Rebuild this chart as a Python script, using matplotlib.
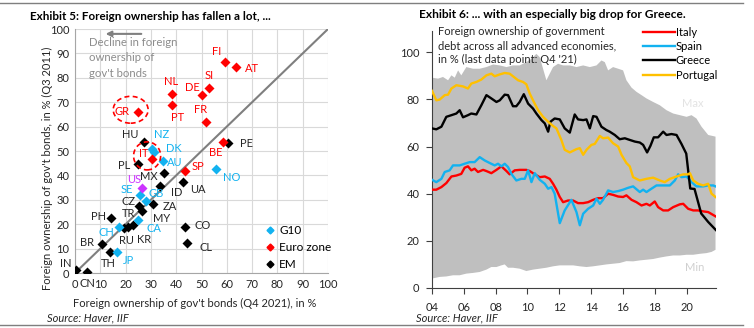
import numpy as np
import matplotlib
matplotlib.use("Agg")
import matplotlib.pyplot as plt
from matplotlib.lines import Line2D
from matplotlib.patches import Ellipse

plt.rcParams['font.family'] = ['Lato', 'DejaVu Sans']

# ==========================================
# Exhibit 5 data: (Q4 2021 share, Q3 2011 share), label offsets in pixels
# ==========================================
euro_names = ['FI', 'AT', 'SI', 'DE', 'NL', 'PT', 'GR', 'FR', 'BE', 'IT', 'SP']
euro_x = [59.3, 63.6, 53.1, 50.2, 38.4, 38.4, 24.8, 51.8, 58.4, 30.5, 43.5]
euro_y = [86.4, 84.5, 75.8, 73.0, 73.4, 69.0, 65.9, 61.9, 53.8, 46.6, 41.9]
euro_off = [(-8, 11), (16, -2), (0, 13), (-10, 7), (-1, 12), (5, -13), (-16, 1),
            (-5, 12), (-7, -11), (-8, 6), (13, 4)]

g10_names = ['NZ', 'DK', 'AU', 'NO', 'SE', 'GB', 'CA', 'CH', 'JP']
g10_x = [30.5, 31.3, 34.7, 55.7, 25.7, 28.1, 25.0, 17.5, 16.5]
g10_y = [50.8, 49.7, 46.0, 42.5, 32.0, 29.6, 21.7, 19.0, 8.7]
g10_off = [(9, 15), (20, 3), (12, -2), (16, -8), (-13, 5), (10, 7), (16, -8),
           (-13, -6), (12, -9)]

us_x = [26.4]
us_y = [34.7]

em_names = ['PE', 'HU', 'PL', 'MX', 'UA', 'ID', 'CZ', 'ZA', 'TR', 'RU', 'KR', 'MY',
            'PH', 'BR', 'TH', 'IN', 'CN', 'CO', 'CL']
em_x = [60.6, 27.4, 24.8, 35.2, 42.8, 33.6, 25.4, 30.7, 26.6, 19.4, 21.1, 23.0,
        14.1, 10.5, 13.8, 0.4, 4.9, 43.5, 44.1]
em_y = [53.4, 53.8, 44.7, 40.9, 37.4, 35.7, 27.5, 28.3, 25.4, 18.3, 19.0, 19.7,
        22.4, 11.9, 8.7, 1.2, 0.5, 18.7, 12.2]
em_off = [(18, -1), (-14, 7), (-14, -2), (-15, -3), (15, -8), (17, -7), (-11, 4),
          (17, -3), (-14, -2), (2, -12), (16, -13), (28, 6), (-12, 2), (-15, 1),
          (-2, -12), (-10, 7), (0, -12), (18, 2), (19, -4)]

diag = [0, 100]
decline_lines = ['Decline in foreign', 'ownership of', "gov't bonds"]

# ==========================================
# Exhibit 6 data: foreign ownership of govt debt, %
# ==========================================
pt_t = [2004.00, 2004.27, 2004.48, 2004.80, 2005.01, 2005.22, 2005.53, 2005.95, 2006.26,
        2006.47, 2006.79, 2007.10, 2007.42, 2007.73, 2007.94, 2008.26, 2008.57, 2008.88,
        2009.09, 2009.41, 2009.72, 2009.93, 2010.14, 2010.35, 2010.67, 2010.98, 2011.30,
        2011.61, 2011.82, 2012.13, 2012.34, 2012.66, 2013.08, 2013.29, 2013.50, 2013.71,
        2014.02, 2014.23, 2014.55, 2014.75, 2015.07, 2015.38, 2015.70, 2015.91, 2016.22,
        2016.43, 2016.64, 2017.06, 2017.48, 2017.90, 2018.32, 2018.63, 2018.95, 2019.37,
        2019.79, 2020.10, 2020.21, 2020.42, 2020.73, 2021.04, 2021.36, 2021.57, 2021.82]
pt_v = [83.6, 79.6, 79.9, 81.8, 82.0, 84.6, 86.0, 85.5, 84.6,
        86.7, 87.4, 88.4, 90.2, 90.9, 89.8, 90.6, 91.2, 90.9,
        89.8, 88.1, 87.4, 86.4, 82.5, 79.6, 75.4, 72.6, 70.5,
        68.7, 67.7, 62.8, 58.6, 57.5, 58.9, 59.3, 56.5, 58.6,
        60.7, 61.1, 64.5, 63.5, 63.8, 61.4, 60.0, 56.5, 53.0,
        51.6, 47.0, 45.6, 46.3, 46.8, 45.6, 44.9, 46.3, 47.3,
        48.2, 48.2, 48.7, 45.6, 44.2, 43.5, 44.2, 40.0, 38.6]

gr_t = [2004.00, 2004.27, 2004.59, 2004.90, 2005.22, 2005.53, 2005.74, 2005.95, 2006.26,
        2006.47, 2006.79, 2007.10, 2007.42, 2007.73, 2008.05, 2008.26, 2008.57, 2008.78,
        2009.09, 2009.30, 2009.51, 2009.77, 2010.04, 2010.35, 2010.56, 2010.88, 2011.09,
        2011.30, 2011.44, 2011.71, 2012.03, 2012.34, 2012.66, 2012.97, 2013.18, 2013.50,
        2013.71, 2013.92, 2014.13, 2014.34, 2014.65, 2014.96, 2015.17, 2015.49, 2015.80,
        2016.12, 2016.43, 2016.75, 2017.06, 2017.27, 2017.52, 2017.73, 2017.94, 2018.21,
        2018.53, 2018.74, 2019.05, 2019.37, 2019.68, 2019.98, 2020.23, 2020.50, 2020.92,
        2021.36, 2021.84]
gr_v = [67.7, 67.3, 68.4, 72.6, 73.3, 74.0, 75.4, 72.4, 73.3,
        74.0, 73.6, 77.5, 81.8, 80.4, 78.9, 79.6, 82.0, 81.8,
        77.1, 77.1, 78.9, 82.2, 78.2, 76.1, 74.0, 71.2, 69.8,
        66.3, 70.5, 71.9, 71.5, 67.7, 65.9, 73.6, 71.5, 71.2,
        71.5, 67.7, 72.9, 72.6, 68.4, 67.0, 66.3, 64.9, 63.1,
        63.5, 62.8, 62.1, 61.7, 60.7, 57.5, 60.3, 63.9, 63.9,
        66.3, 64.9, 65.3, 64.9, 61.1, 57.0, 42.2, 42.0, 31.6,
        28.0, 24.6]

it_t = [2004.00, 2004.27, 2004.59, 2004.90, 2005.22, 2005.53, 2005.84, 2006.05, 2006.26,
        2006.47, 2006.68, 2006.89, 2007.21, 2007.42, 2007.73, 2008.05, 2008.36, 2008.68,
        2008.88, 2009.20, 2009.51, 2009.93, 2010.14, 2010.46, 2010.77, 2011.09, 2011.40,
        2011.61, 2011.82, 2012.03, 2012.24, 2012.55, 2012.87, 2013.18, 2013.50, 2013.81,
        2014.13, 2014.44, 2014.75, 2015.07, 2015.38, 2015.70, 2016.01, 2016.22, 2016.54,
        2016.85, 2017.17, 2017.48, 2017.69, 2018.00, 2018.21, 2018.53, 2018.84, 2019.16,
        2019.58, 2019.79, 2020.10, 2020.42, 2020.73, 2021.04, 2021.36, 2021.82]
it_v = [41.7, 41.7, 42.8, 44.5, 47.3, 47.7, 48.4, 51.0, 51.6,
        49.9, 50.6, 49.2, 50.1, 49.6, 48.7, 50.1, 51.6, 49.6,
        48.2, 49.9, 50.1, 50.1, 49.6, 48.2, 47.0, 47.3, 46.3,
        44.2, 41.7, 38.6, 36.4, 37.1, 37.1, 36.0, 36.0, 36.4,
        37.4, 38.1, 38.1, 40.0, 39.5, 38.8, 38.6, 39.3, 37.4,
        36.4, 35.0, 35.7, 35.0, 36.7, 34.3, 32.9, 32.9, 34.3,
        35.5, 35.7, 33.6, 32.9, 32.9, 32.5, 32.2, 30.4]

es_t = [2004.00, 2004.27, 2004.59, 2004.80, 2005.11, 2005.32, 2005.74, 2006.05, 2006.37,
        2006.68, 2007.00, 2007.31, 2007.63, 2007.94, 2008.15, 2008.36, 2008.57, 2008.78,
        2008.99, 2009.30, 2009.62, 2009.83, 2010.04, 2010.25, 2010.46, 2010.77, 2011.09,
        2011.30, 2011.51, 2011.71, 2012.03, 2012.34, 2012.76, 2013.08, 2013.29, 2013.50,
        2013.81, 2014.13, 2014.34, 2014.55, 2014.75, 2015.07, 2015.38, 2015.70, 2016.01,
        2016.33, 2016.64, 2017.06, 2017.27, 2017.48, 2017.79, 2018.11, 2018.53, 2018.95,
        2019.26, 2019.47, 2019.68, 2020.00, 2020.31, 2020.62, 2021.04, 2021.36, 2021.67,
        2021.82]
es_v = [45.9, 44.9, 46.3, 49.2, 49.9, 52.0, 52.0, 52.7, 53.4,
        53.4, 55.5, 54.1, 53.0, 52.0, 52.7, 51.6, 52.7, 51.3,
        48.4, 45.6, 46.3, 46.3, 49.9, 44.9, 48.7, 45.9, 44.2,
        42.1, 42.8, 40.0, 27.5, 32.9, 37.4, 32.2, 26.6, 31.5,
        33.6, 35.0, 37.9, 35.7, 37.4, 41.4, 40.7, 41.1, 41.7,
        42.5, 43.1, 40.7, 41.7, 40.7, 42.1, 43.5, 43.5, 43.5,
        45.6, 48.2, 47.0, 47.3, 44.9, 43.1, 43.1, 43.5, 43.5,
        43.1]

max_t = [2004.00, 2004.38, 2004.69, 2005.01, 2005.22, 2005.43, 2005.64, 2005.84, 2006.16,
         2006.58, 2007.00, 2007.42, 2007.84, 2008.26, 2008.68, 2009.09, 2009.51, 2009.93,
         2010.25, 2010.56, 2010.77, 2010.98, 2011.19, 2011.40, 2011.61, 2011.92, 2012.24,
         2012.66, 2013.08, 2013.50, 2013.92, 2014.34, 2014.65, 2014.86, 2015.07, 2015.38,
         2015.70, 2016.01, 2016.22, 2016.54, 2016.85, 2017.17, 2017.48, 2017.90, 2018.32,
         2018.74, 2019.16, 2019.58, 2020.00, 2020.31, 2020.62, 2020.94, 2021.36, 2021.82]
max_v = [89.2, 88.8, 89.5, 88.1, 90.2, 89.2, 92.3, 90.2, 93.7,
         93.0, 93.0, 93.7, 94.8, 94.4, 93.7, 94.4, 94.4, 95.8,
         97.2, 99.3, 97.9, 93.0, 88.1, 90.9, 93.7, 95.1, 94.4,
         94.4, 93.7, 94.4, 93.7, 94.4, 96.5, 95.8, 92.3, 93.7,
         93.0, 92.3, 88.1, 85.0, 83.2, 81.8, 80.4, 78.9, 77.5,
         75.4, 74.0, 73.3, 72.6, 73.3, 71.9, 68.4, 64.9, 64.2]

min_t = [2004.00, 2004.48, 2004.90, 2005.32, 2005.74, 2006.16, 2006.58, 2007.00, 2007.42,
         2007.73, 2008.05, 2008.36, 2008.57, 2008.78, 2009.09, 2009.51, 2009.93, 2010.35,
         2010.77, 2011.19, 2011.61, 2012.03, 2012.45, 2012.87, 2013.29, 2013.71, 2014.13,
         2014.55, 2014.96, 2015.38, 2015.80, 2016.22, 2016.64, 2017.06, 2017.48, 2017.90,
         2018.32, 2018.74, 2019.16, 2019.58, 2020.00, 2020.42, 2020.83, 2021.25, 2021.57,
         2021.82]
min_v = [4.0, 4.7, 4.9, 5.4, 5.4, 6.1, 6.4, 6.8, 7.8,
         8.9, 8.9, 9.6, 10.0, 8.6, 8.6, 8.2, 7.2, 7.8,
         8.2, 8.6, 9.2, 9.6, 9.6, 9.6, 9.2, 8.9, 9.2,
         9.6, 10.0, 10.3, 10.6, 11.4, 11.3, 11.7, 12.0, 12.3,
         12.9, 13.4, 13.8, 13.8, 14.1, 14.1, 14.5, 14.8, 15.3,
         16.2]

year_ticks = [2004, 2006, 2008, 2010, 2012, 2014, 2016, 2018, 2020]
year_labels = ['04', '06', '08', '10', '12', '14', '16', '18', '20']

BLUE = '#12B2F0'
RED = '#FF0000'
PURPLE = '#CC33FF'
GOLD = '#FFC000'
W, H = 754, 328


def px(x, y):
    # pixel position (from top-left) -> figure fraction
    return x / W, 1 - y / H


fig = plt.figure(figsize=(7.54, 3.28), dpi=100)

# frame lines
fig.add_artist(Line2D([0, 743 / W], [1 - 3 / H] * 2, color='#7F7F7F', lw=1))
fig.add_artist(Line2D([0, 743 / W], [1 - 325 / H] * 2, color='#7F7F7F', lw=1))

# ==========================================
# Exhibit 5
# ==========================================
ax1 = fig.add_axes([75 / W, (H - 273) / H, (328 - 75) / W, (273 - 29) / H])
ax1.set_xlim(0, 100)
ax1.set_ylim(0, 100)
ax1.set_xticks(range(0, 101, 10))
ax1.set_yticks(range(0, 101, 10))
ax1.grid(True, color='#D9D9D9', lw=0.8)
ax1.set_axisbelow(True)
for s in ['top', 'right']:
    ax1.spines[s].set_visible(False)
for s in ['left', 'bottom']:
    ax1.spines[s].set_color('#A6A6A6')
ax1.tick_params(length=0, labelsize=8, labelcolor='#262626', pad=4)

ax1.plot(diag, diag, color='#7F7F7F', lw=1.5, zorder=2)

ms = 26
ax1.scatter(em_x, em_y, marker='D', s=ms, color='black', zorder=3, linewidths=0)
ax1.scatter(g10_x, g10_y, marker='D', s=ms, color=BLUE, zorder=4, linewidths=0)
ax1.scatter(us_x, us_y, marker='D', s=ms, color=PURPLE, zorder=4, linewidths=0)
ax1.scatter(euro_x, euro_y, marker='D', s=ms, color=RED, zorder=5, linewidths=0)


def put_labels(names, xs, ys, offs, color):
    for n, x, y, o in zip(names, xs, ys, offs):
        ax1.annotate(n, (x, y), xytext=o, textcoords='offset pixels', ha='center',
                     va='center', fontsize=8, color=color, annotation_clip=False)


put_labels(euro_names, euro_x, euro_y, euro_off, RED)
put_labels(g10_names, g10_x, g10_y, g10_off, BLUE)
put_labels(['US'], us_x, us_y, [(-8, 9)], PURPLE)
put_labels(em_names, em_x, em_y, em_off, '#262626')

# dashed circles round GR and IT
ax1.add_patch(Ellipse((22, 66.9), 13.8, 11, fill=False, ec=RED, lw=1.2, ls=(0, (3, 2)), zorder=6))
ax1.add_patch(Ellipse((28.5, 48), 10.7, 11.5, fill=False, ec=RED, lw=1.2, ls=(0, (3, 2)), zorder=6))

ax1.annotate('', xy=(11, 98), xytext=(27.3, 98),
             arrowprops=dict(arrowstyle='-|>', color='#808080', lw=1.5, mutation_scale=8))
for i, line in enumerate(decline_lines):
    fig.text(*px(89, 42 + 15.8 * i), line, ha='left', va='center', fontsize=8.2,
             color='#8C8C8C')

leg_handles = [Line2D([], [], ls='none', marker='D', ms=3.5, color=c) for c in [BLUE, RED, 'black']]
fig.legend(leg_handles, ['G10', 'Euro zone', 'EM'], loc='upper left',
           bbox_to_anchor=px(259, 219), frameon=False, fontsize=8.5, handlelength=0.8,
           handletextpad=0.4, labelspacing=0.5, borderpad=0)

fig.text(*px(30, 16), 'Exhibit 5: Foreign ownership has fallen a lot, ...', fontsize=8.4,
         fontweight='bold', ha='left', va='center')
fig.text(*px(47, 168), "Foreign ownership of gov't bonds, in % (Q3 2011)", rotation=90,
         fontsize=8, ha='center', va='center', color='#262626')
fig.text(*px(195, 303), "Foreign ownership of gov't bonds (Q4 2021), in %", fontsize=8,
         ha='center', va='center', color='#262626')
fig.text(*px(47, 318), 'Source: Haver, IIF', fontsize=8, style='italic', ha='left',
         va='center', color='#262626')

# ==========================================
# Exhibit 6
# ==========================================
ax2 = fig.add_axes([432 / W, (H - 288) / H, (716 - 432) / W, (288 - 31) / H])
ax2.set_xlim(2004, 2021.85)
ax2.set_ylim(0, 109)
ax2.fill(np.concatenate([max_t, min_t[::-1]]), np.concatenate([max_v, min_v[::-1]]),
         color='#BFBFBF', lw=0, zorder=1)
ax2.plot(it_t, it_v, color=RED, lw=1.7, label='Italy', zorder=3)
ax2.plot(es_t, es_v, color=BLUE, lw=1.7, label='Spain', zorder=3)
ax2.plot(gr_t, gr_v, color='black', lw=1.7, label='Greece', zorder=3)
ax2.plot(pt_t, pt_v, color=GOLD, lw=1.7, label='Portugal', zorder=3)

ax2.set_xticks(year_ticks)
ax2.set_xticklabels(year_labels)
ax2.set_yticks(range(0, 101, 20))
for s in ['top', 'right']:
    ax2.spines[s].set_visible(False)
for s in ['left', 'bottom']:
    ax2.spines[s].set_color('#404040')
ax2.tick_params(direction='out', length=4, color='#404040', labelsize=8,
                labelcolor='#262626', pad=5)
ax2.tick_params(axis='x', pad=6)

ax2.text(2020.37, 78.4, 'Max', fontsize=8, color='#E3E3E3', ha='center', va='center')
ax2.text(2020.5, 8.9, 'Min', fontsize=8, color='#D0D0D0', ha='center', va='center')

fig.legend(*ax2.get_legend_handles_labels(), loc='upper left', bbox_to_anchor=px(637, 21),
           frameon=False, fontsize=8, handlelength=2.9, handletextpad=0.1,
           labelspacing=0.3, borderpad=0)

fig.text(*px(438, 26), "Foreign ownership of government\ndebt across all advanced economies,\n"
         "in % (last data point: Q4 '21)", fontsize=8, ha='left', va='top',
         color='#262626', linespacing=1.35)
fig.text(*px(419, 15), 'Exhibit 6: ... with an especially big drop for Greece.', fontsize=8.6,
         fontweight='bold', ha='left', va='center')
fig.text(*px(416, 318), 'Source: Haver, IIF', fontsize=8, style='italic', ha='left',
         va='center', color='#262626')

fig.savefig('out.png', dpi=100)
